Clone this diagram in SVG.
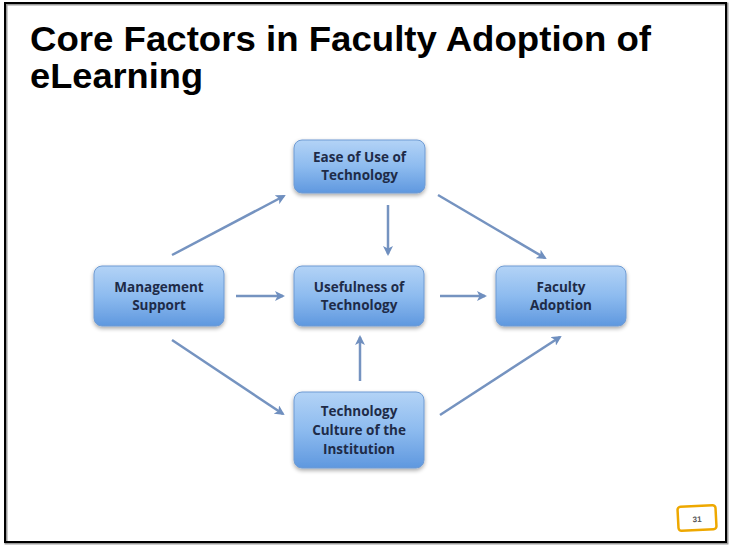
<svg xmlns="http://www.w3.org/2000/svg" width="731" height="546" viewBox="0 0 731 546">
<defs>
<linearGradient id="g" x1="0" y1="0" x2="0" y2="1">
<stop offset="0" stop-color="#b3d3f6"/>
<stop offset="0.5" stop-color="#8dbbef"/>
<stop offset="1" stop-color="#5f98df"/>
</linearGradient>
<marker id="ah" viewBox="0 0 10 10" refX="8" refY="5" markerWidth="4" markerHeight="4" orient="auto" markerUnits="strokeWidth">
<path d="M0,0 L10,5 L0,10 L2.5,5 z" fill="#6f8fbf"/>
</marker>
<filter id="sh" x="-10%" y="-10%" width="130%" height="140%">
<feGaussianBlur in="SourceAlpha" stdDeviation="2"/>
<feOffset dx="0" dy="2"/>
<feComponentTransfer><feFuncA type="linear" slope="0.35"/></feComponentTransfer>
<feMerge><feMergeNode/><feMergeNode in="SourceGraphic"/></feMerge>
</filter>
</defs>
<style>
.box{fill:url(#g);stroke:#6f9bd3;stroke-width:1;filter:url(#sh)}
.lbl{font-family:"Open Sans","Liberation Sans",sans-serif;font-weight:bold;font-size:13.5px;fill:#1e2b48;text-anchor:middle}
.title{font-family:"Liberation Sans",Arial,sans-serif;font-weight:bold;font-size:35px;fill:#000}
.conn line{stroke:#7593c0;stroke-width:2.5;marker-end:url(#ah)}
</style>
<rect x="0" y="0" width="731" height="546" fill="#fff"/>
<rect x="6" y="4" width="721" height="539" fill="none" stroke="#9a9a9a" stroke-width="3"/>
<rect x="5" y="3" width="721" height="539" fill="none" stroke="#000" stroke-width="2"/>
<text class="title" x="30" y="51" textLength="621" lengthAdjust="spacingAndGlyphs">Core Factors in Faculty Adoption of</text>
<text class="title" x="30" y="88" textLength="173" lengthAdjust="spacingAndGlyphs">eLearning</text>
<g class="conn">
<line x1="172" y1="255" x2="284" y2="196"/>
<line x1="438" y1="195" x2="545" y2="258"/>
<line x1="388" y1="205" x2="388" y2="254"/>
<line x1="236" y1="296" x2="283" y2="296"/>
<line x1="440" y1="296" x2="485" y2="296"/>
<line x1="172" y1="340" x2="283" y2="414"/>
<line x1="360" y1="381" x2="360" y2="337"/>
<line x1="440" y1="415" x2="560" y2="337"/>
</g>
<g id="ease">
<rect class="box" x="294" y="140" width="131" height="53" rx="8"/>
<text class="lbl" x="359.5" y="162">Ease of Use of</text>
<text class="lbl" x="359.5" y="180">Technology</text>
</g>
<g id="mgmt">
<rect class="box" x="94" y="266" width="130" height="60" rx="8"/>
<text class="lbl" x="159" y="292">Management</text>
<text class="lbl" x="159" y="310">Support</text>
</g>
<g id="useful">
<rect class="box" x="294" y="266" width="130" height="60" rx="8"/>
<text class="lbl" x="359" y="292">Usefulness of</text>
<text class="lbl" x="359" y="310">Technology</text>
</g>
<g id="faculty">
<rect class="box" x="496" y="266" width="130" height="60" rx="8"/>
<text class="lbl" x="561" y="292">Faculty</text>
<text class="lbl" x="561" y="310">Adoption</text>
</g>
<g id="culture">
<rect class="box" x="294" y="392" width="130" height="76" rx="8"/>
<text class="lbl" x="359" y="416">Technology</text>
<text class="lbl" x="359" y="435">Culture of the</text>
<text class="lbl" x="359" y="454">Institution</text>
</g>
<g id="page" transform="rotate(-3 697 518)">
<rect x="678" y="506" width="38" height="24" rx="3" fill="#fff" stroke="#eea800" stroke-width="2.5"/>
<text x="697" y="522" font-family="Liberation Sans,Arial,sans-serif" font-weight="bold" font-size="8" fill="#555" text-anchor="middle">31</text>
</g>
</svg>
